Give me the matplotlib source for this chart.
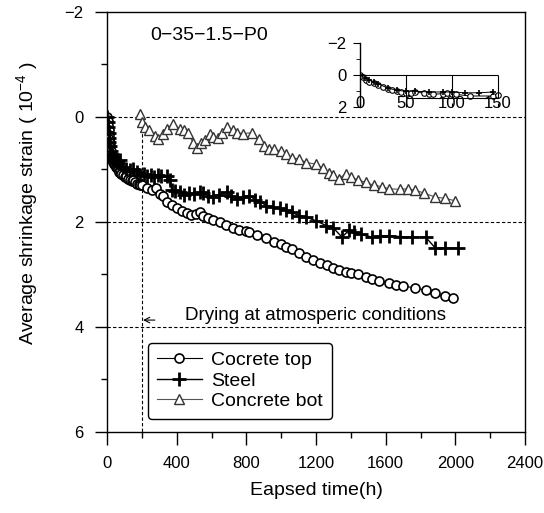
import numpy as np
import matplotlib
matplotlib.use("Agg")
from matplotlib import pyplot as plt

plt.rcParams["font.family"] = ["Liberation Sans", "DejaVu Sans"]
plt.rcParams["mathtext.fontset"] = "custom"
plt.rcParams["mathtext.rm"] = "Liberation Sans"
plt.rcParams["mathtext.it"] = "Liberation Sans"

# Cocrete top (circles)
top_t = [0, 3, 5, 8, 10, 13, 15, 18, 20, 25, 30, 35, 40, 45, 50, 55, 60, 68, 75, 82,
         90, 100, 110, 120, 130, 140, 150, 160, 170, 180, 190, 200,
         230, 260, 280, 303, 320, 343, 370, 400, 430, 457, 480, 510, 531, 549, 580,
         610, 646, 680, 720, 760, 800, 817, 860, 914, 960, 1000, 1029, 1060, 1100,
         1143, 1180, 1220, 1260, 1300, 1331, 1370, 1400, 1440, 1486, 1520, 1560,
         1617, 1660, 1700, 1771, 1830, 1886, 1940, 1989]
top_v = [0, 0.08, 0.15, 0.25, 0.35, 0.42, 0.5, 0.58, 0.65, 0.75, 0.82, 0.86, 0.9,
         0.92, 0.95, 0.97, 1.0, 1.05, 1.02, 1.08, 1.1, 1.15, 1.12, 1.18, 1.2, 1.22,
         1.2, 1.25, 1.27, 1.28, 1.3, 1.3, 1.36, 1.4, 1.35, 1.46, 1.5, 1.63, 1.68,
         1.74, 1.8, 1.84, 1.86, 1.85, 1.82, 1.88, 1.92, 1.96, 2.0, 2.06, 2.12, 2.15,
         2.18, 2.2, 2.25, 2.31, 2.38, 2.43, 2.48, 2.52, 2.6, 2.67, 2.72, 2.78, 2.82,
         2.88, 2.92, 2.96, 2.98, 3.0, 3.05, 3.08, 3.12, 3.17, 3.2, 3.22, 3.26, 3.3,
         3.36, 3.42, 3.45]

# Steel (plus)
steel_t = [0, 3, 5, 8, 10, 13, 15, 20, 25, 30, 40, 50, 60, 74, 90, 110, 130, 149,
           170, 190, 210, 229, 250, 270, 290, 310, 343, 360, 371, 390, 417, 440, 470,
           500, 531, 549, 580, 606, 640, 686, 710, 743, 780, 817, 850, 880, 914, 950,
           990, 1029, 1060, 1103, 1143, 1200, 1257, 1300, 1349, 1389, 1420, 1460,
           1520, 1570, 1617, 1680, 1750, 1829, 1886, 1943, 2017]
steel_v = [0, 0.1, 0.2, 0.3, 0.4, 0.48, 0.55, 0.65, 0.7, 0.75, 0.8, 0.85, 0.88, 0.83,
           0.95, 1.0, 1.02, 1.0, 1.05, 1.1, 1.08, 1.12, 1.1, 1.15, 1.1, 1.12, 1.12,
           1.2, 1.4, 1.42, 1.44, 1.48, 1.45, 1.46, 1.44, 1.45, 1.5, 1.53, 1.48, 1.44,
           1.5, 1.56, 1.52, 1.5, 1.58, 1.62, 1.69, 1.72, 1.74, 1.78, 1.82, 1.88, 1.91,
           1.98, 2.07, 2.12, 2.29, 2.16, 2.2, 2.24, 2.29, 2.27, 2.26, 2.28, 2.29, 2.29,
           2.5, 2.5, 2.5]

# Concrete bot (triangles)
bot_t = [189, 200, 220, 240, 274, 291, 320, 343, 377, 417, 440, 463, 495, 514, 540,
         560, 589, 610, 634, 660, 691, 720, 743, 780, 834, 870, 900, 931, 960, 1000,
         1029, 1063, 1100, 1143, 1200, 1240, 1274, 1300, 1331, 1371, 1400, 1440,
         1486, 1530, 1580, 1617, 1680, 1730, 1771, 1820, 1886, 1940, 2000]
bot_v = [-0.05, 0.1, 0.2, 0.25, 0.36, 0.42, 0.32, 0.23, 0.13, 0.23, 0.26, 0.3, 0.5,
         0.6, 0.5, 0.45, 0.33, 0.38, 0.4, 0.3, 0.19, 0.25, 0.3, 0.32, 0.3, 0.42, 0.55,
         0.61, 0.62, 0.66, 0.7, 0.78, 0.8, 0.87, 0.9, 0.98, 1.06, 1.1, 1.18, 1.08,
         1.15, 1.2, 1.25, 1.3, 1.33, 1.37, 1.38, 1.37, 1.4, 1.45, 1.53, 1.55, 1.6]

# inset: first 150 h
in_top_t = [0, 3, 6, 10, 15, 20, 25, 30, 35, 40, 45, 50, 55, 60, 70, 75, 80, 90, 95,
            100, 105, 120, 145, 150]
in_top_v = [0, 0.1, 0.3, 0.4, 0.5, 0.6, 0.75, 0.85, 0.95, 1.0, 1.05, 1.1, 1.1, 1.08,
            1.1, 1.15, 1.2, 1.15, 1.1, 1.15, 1.2, 1.3, 1.3, 1.25]
in_steel_t = [0, 5, 10, 15, 20, 30, 40, 50, 60, 75, 90, 100, 115, 130, 145]
in_steel_v = [0, 0.15, 0.3, 0.45, 0.55, 0.8, 0.95, 1.0, 1.0, 1.05, 1.05, 1.05, 1.1,
              1.1, 1.05]

fig = plt.figure(figsize=(5.44, 5.13), dpi=100)
ax = fig.add_axes([0.197, 0.158, 0.768, 0.819])

dash = (0, (3, 2))
for yv in [0, 2, 4]:
    ax.axhline(yv, color="black", lw=0.8, ls=dash, zorder=1)
ax.plot([200, 200], [0, 6], color="black", lw=0.8, ls=dash, zorder=1)

ax.plot(top_t, top_v, color="black", lw=0.8, marker="o", ms=6.5, mfc="white",
        mec="black", mew=1.2, label="Cocrete top", zorder=3)
ax.plot(steel_t, steel_v, color="black", lw=1.0, marker="+", ms=10, mew=2.0,
        label="Steel", zorder=4)
ax.plot(bot_t, bot_v, color="#555555", lw=0.8, marker="^", ms=6.5, mfc="white",
        mec="#333333", mew=1.0, label="Concrete bot", zorder=2)

ax.set_xlim(0, 2400)
ax.set_ylim(6, -2)
ax.set_xticks(np.arange(0, 2401, 400))
ax.set_xticks(np.arange(0, 2401, 200), minor=True)
ax.set_yticks([-2, 0, 2, 4, 6])
ax.set_yticks([-1, 1, 3, 5], minor=True)
ax.tick_params(which="major", direction="out", length=9, width=1.0, labelsize=12, pad=8)
ax.tick_params(which="minor", direction="out", length=4.5, width=1.0)
for s in ax.spines.values():
    s.set_linewidth(1.0)

ax.set_xlabel("Eapsed time(h)", fontsize=14, labelpad=8)
ax.set_ylabel("Average shrinkage strain ( $10^{-4}$ )", fontsize=14)
ax.yaxis.set_label_coords(-0.16, 0.545)

ax.text(246, -1.54, "0\u221235\u22121.5\u2212P0", fontsize=14, va="center", ha="left")
ax.annotate("", xy=(190, 3.87), xytext=(290, 3.87),
            arrowprops=dict(arrowstyle="->", lw=0.8, color="black"))
ax.text(446, 3.79, "Drying at atmosperic conditions", fontsize=13.5, va="center",
        ha="left")

leg = ax.legend(loc="lower left", bbox_to_anchor=(0.098, 0.031), borderaxespad=0,
                fontsize=14, frameon=True, fancybox=True, edgecolor="black",
                framealpha=1, handlelength=2.3, labelspacing=0.15, borderpad=0.45,
                handletextpad=0.5)
leg.get_frame().set_linewidth(1.0)

# inset
ax2 = fig.add_axes([0.662, 0.791, 0.261, 0.125])
ax2.plot(in_top_t, in_top_v, color="black", lw=0.7, marker="o", ms=4, mfc="white",
         mec="black", mew=0.8)
ax2.plot(in_steel_t, in_steel_v, color="black", lw=0.7, marker="+", ms=5, mew=1.2)
ax2.hlines(0, 0, 150, color="black", lw=0.8)
ax2.vlines([50, 100, 150], 0, 1.4, color="black", lw=0.8)
ax2.hlines(1.4, 50, 150, color="black", lw=0.8)
ax2.set_xlim(0, 155)
ax2.set_ylim(2, -2)
ax2.set_xticks([0, 50, 100, 150])
ax2.set_yticks([-2, 0, 2])
ax2.set_yticks([-1, 1], minor=True)
ax2.patch.set_alpha(0)
for side in ["top", "right", "bottom"]:
    ax2.spines[side].set_visible(False)
ax2.spines["left"].set_linewidth(1.0)
ax2.tick_params(axis="y", which="major", direction="out", length=5, labelsize=12, pad=5)
ax2.tick_params(axis="y", which="minor", direction="out", length=3)
ax2.tick_params(axis="x", direction="in", length=3, labelsize=12, pad=-8)

fig.savefig("out.png", dpi=100)
